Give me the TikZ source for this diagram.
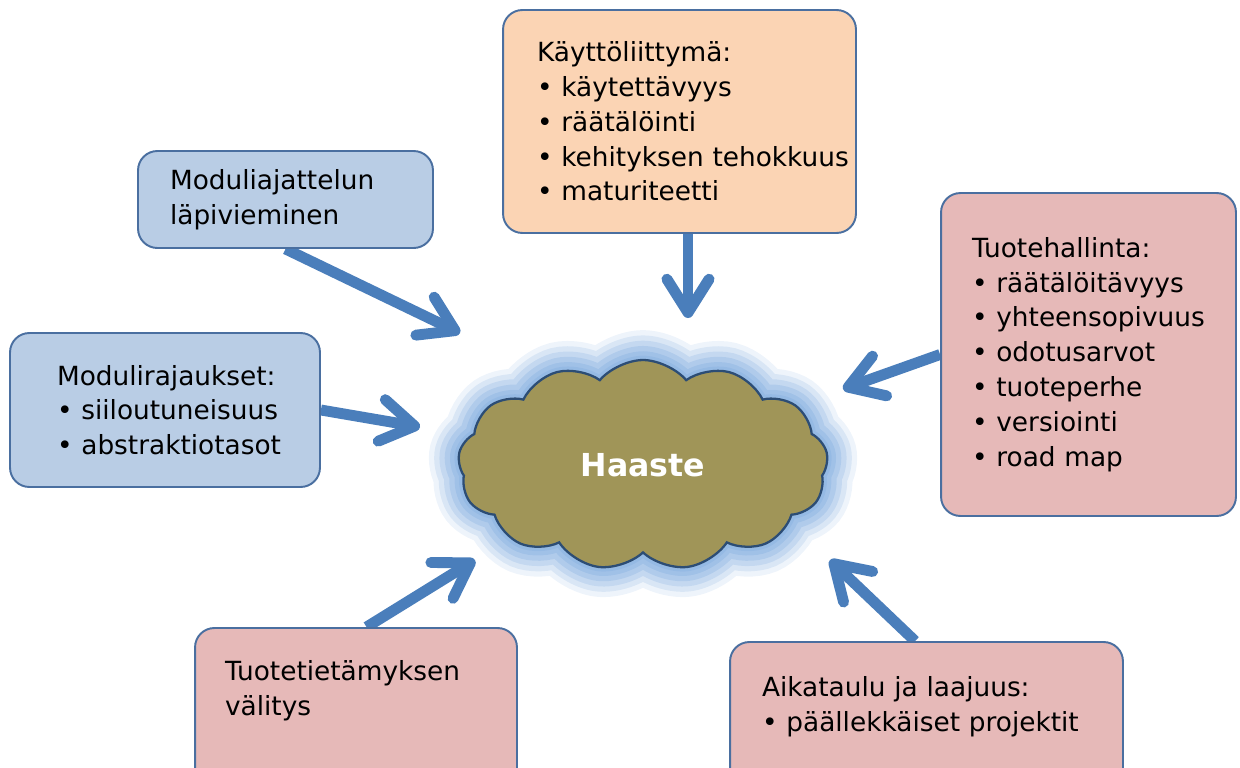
\documentclass[tikz,border=0pt]{standalone}
\usepackage{fontspec}
\setmainfont{DejaVu Sans}
\usetikzlibrary{arrows.meta,positioning,shapes.symbols,backgrounds}
\definecolor{boxedge}{HTML}{4A6FA0}
\definecolor{bluefill}{HTML}{B9CDE5}
\definecolor{rosefill}{HTML}{E6B9B8}
\definecolor{peachfill}{HTML}{FBD4B4}
\definecolor{arrowblue}{HTML}{4A7EBB}
\definecolor{cloudfill}{HTML}{A09558}
\definecolor{cloudedge}{HTML}{2C4D75}
\definecolor{glowblue}{HTML}{8DB4E2}
\pgfdeclarelayer{arrowlayer}
\pgfsetlayers{background,arrowlayer,main}
\hyphenpenalty=10000
\tikzset{
  topic/.style={draw=boxedge,line width=1.1pt,rounded corners=11pt,inner sep=0pt,align=left,
    font=\fontsize{15}{19.8}\selectfont},
  bluebox/.style={topic,fill=bluefill},
  rosebox/.style={topic,fill=rosefill},
  peachbox/.style={topic,fill=peachfill},
  flow/.style={draw=arrowblue,line width=6.2pt,-{Straight Barb[round,length=19pt,width=24pt]}},
  challenge/.style={cloud,cloud puffs=13,cloud puff arc=100,cloud ignores aspect,
    minimum width=7.4cm,minimum height=4.2cm,fill=cloudfill,draw=cloudedge,line width=1.3pt,
    text=white,font=\fontsize{18}{21}\selectfont\bfseries,
    preaction={draw=glowblue,line width=34pt,opacity=.15},
    preaction={draw=glowblue,line width=28pt,opacity=.22},
    preaction={draw=glowblue,line width=22pt,opacity=.28},
    preaction={draw=glowblue,line width=16pt,opacity=.35},
    preaction={draw=glowblue,line width=10pt,opacity=.45},
    preaction={draw=glowblue,line width=5pt,opacity=.55}},
}

\begin{document}
\begin{tikzpicture}[x=0.02cm,y=-0.02cm]
    \useasboundingbox (0,0) rectangle (1240,767);
    % centre
    \begin{scope}[on background layer]
      \node[challenge] (haaste) at (643,465) {Haaste};
    \end{scope}
    % topics round the cloud
    \node[peachbox,text width=5.7cm,minimum width=7.06cm,minimum height=4.46cm] (ui) at (679.5,121.5)
      {Käyttöliittymä:\\•~käytettävyys\\•~räätälöinti\\•~kehityksen~tehokkuus\\•~maturiteetti};
    \node[bluebox,text width=4.62cm,minimum width=5.9cm,minimum height=1.94cm] (modajat) at (285.5,199.5)
      {Moduliajattelun\\läpivieminen};
    \node[bluebox,text width=4.32cm,minimum width=6.2cm,minimum height=3.08cm] (modraj) at (165,410)
      {Modulirajaukset:\\•~siiloutuneisuus\\•~abstraktiotasot};
    \node[rosebox,text width=4.66cm,minimum width=5.9cm,minimum height=6.46cm] (tuoteh) at (1088.5,354.5)
      {Tuotehallinta:\\•~räätälöitävyys\\•~yhteensopivuus\\•~odotusarvot\\•~tuoteperhe\\•~versiointi\\•~road~map};
    \node[rosebox,text width=5.24cm,minimum width=6.44cm,minimum height=3.44cm] (tieto) at (356,714)
      {Tuotetietämyksen\\välitys\\[10pt]\mbox{}};
    \node[rosebox,text width=6.58cm,minimum width=7.86cm,minimum height=3.16cm] (aika) at (926.5,721)
      {Aikataulu~ja~laajuus:\\•~päällekkäiset~projektit\\\mbox{}};
    % arrow tips at the glow
    \coordinate (tip1) at (460,333);
    \coordinate (tip2) at (688,318);
    \coordinate (tip3) at (843,389);
    \coordinate (tip4) at (420,427);
    \coordinate (tip5) at (475,560);
    \coordinate (tip6) at (830,560);
    \begin{pgfonlayer}{arrowlayer}
      \draw[flow] (modajat.south) -- (tip1);
      \draw[flow] (ui.south -| tip2) -- (tip2);
      \draw[flow] (tuoteh.west) -- (tip3);
      \draw[flow] (modraj.east) -- (tip4);
      \draw[flow] ([xshift=6pt]tieto.north) -- (tip5);
      \draw[flow] ([xshift=-6.5pt]aika.north) -- (tip6);
    \end{pgfonlayer}
\end{tikzpicture}
\end{document}
